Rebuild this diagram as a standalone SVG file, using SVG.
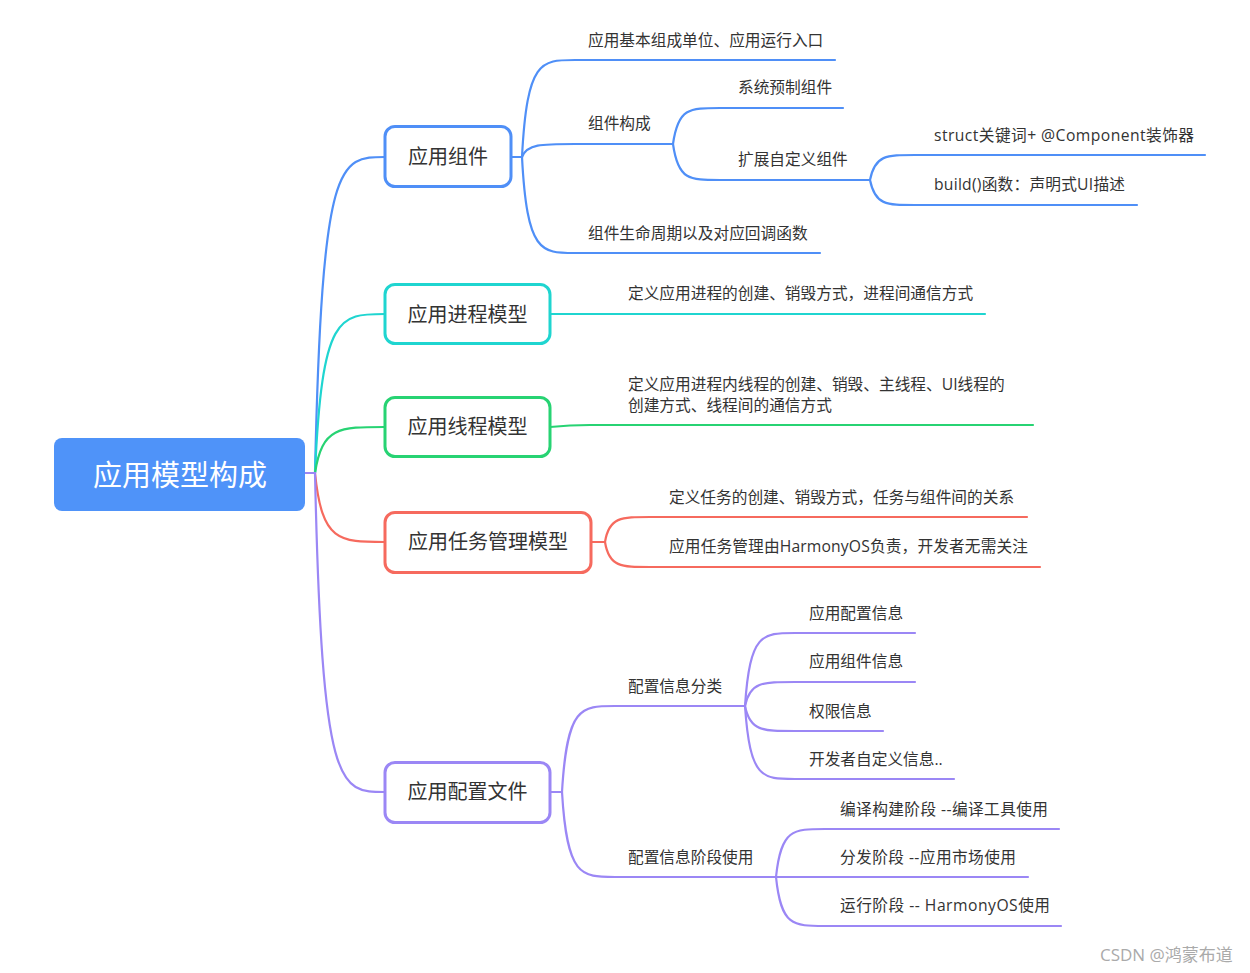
<svg xmlns="http://www.w3.org/2000/svg" width="1250" height="973" viewBox="0 0 1250 973">
<style>
text{font-family:"Open Sans","Noto Sans CJK SC",sans-serif;fill:#333}
.t2{font-size:15.7px}
.t1{font-size:20px;text-anchor:middle}
.root{font-size:29px;fill:#fff;text-anchor:middle}
.box{fill:#fff;stroke-width:3}
path{fill:none;stroke-width:2.2;stroke-linecap:round}
.b{stroke:#4f8ff7}.c{stroke:#1fd5d0}.g{stroke:#27d373}.r{stroke:#f66a5e}.p{stroke:#9b87f5}
.wm{font-size:17px;fill:#aaa}
</style>
<rect width="1250" height="973" fill="#fff"/>
<g id="connectors">
<path class="b" d="M315 473 C322 157 339 157 385 157"/>
<path class="c" d="M315 473 C322 314 339 314 385 314"/>
<path class="g" d="M315 473 C322 427 339 427 385 427"/>
<path class="r" d="M315 473 C322 542 339 542 385 542"/>
<path class="p" d="M315 473 C322 792 339 792 385 792"/>
<path class="p" d="M304 473 L315 473"/>
<path class="b" d="M511 157 L522 157"/>
<path class="b" d="M522 157 C527 60 541 60 575 60 L835 60"/>
<path class="b" d="M522 157 C527 144 541 144 575 144 L673 144"/>
<path class="b" d="M522 157 C527 253 541 253 575 253 L820 253"/>
<path class="b" d="M673 144 C678 108 689 108 720 108 L843 108"/>
<path class="b" d="M673 144 C678 180 689 180 720 180 L870 180"/>
<path class="b" d="M870 180 C875 155 886 155 915 155 L1205 155"/>
<path class="b" d="M870 180 C875 205 886 205 915 205 L1137 205"/>
<path class="c" d="M550 314 L985 314"/>
<path class="g" d="M550 427 C560 426 570 425 590 425 L1033 425"/>
<path class="r" d="M591 542 L605 542"/>
<path class="r" d="M605 542 C609 517 621 517 650 517 L1027 517"/>
<path class="r" d="M605 542 C609 567 621 567 650 567 L1040 567"/>
<path class="p" d="M550 792 L562 792"/>
<path class="p" d="M562 792 C567 706 581 706 615 706 L745 706"/>
<path class="p" d="M562 792 C567 877 581 877 615 877 L776 877"/>
<path class="p" d="M745 706 C750 633 762 633 795 633 L915 633"/>
<path class="p" d="M745 706 C750 682 762 682 795 682 L915 682"/>
<path class="p" d="M745 706 C750 731 762 731 795 731 L883 731"/>
<path class="p" d="M745 706 C750 779 762 779 795 779 L954 779"/>
<path class="p" d="M776 877 C781 829 793 829 825 829 L1059 829"/>
<path class="p" d="M776 877 L1028 877"/>
<path class="p" d="M776 877 C781 926 793 926 825 926 L1061 926"/>
</g>
<g id="root">
<rect x="54" y="438" width="251" height="73" rx="8" fill="#4f93f9"/>
<text class="root" x="180" y="486">应用模型构成</text>
</g>
<g id="n-component">
<rect class="box" x="385" y="126.5" width="126" height="60" rx="10" stroke="#4f8ff7"/>
<text class="t1" x="448" y="164">应用组件</text>
</g>
<g id="n-process">
<rect class="box" x="385" y="284.5" width="165" height="59" rx="10" stroke="#1fd5d0"/>
<text class="t1" x="467.5" y="322">应用进程模型</text>
</g>
<g id="n-thread">
<rect class="box" x="385" y="397.5" width="165" height="59" rx="10" stroke="#27d373"/>
<text class="t1" x="467.5" y="434">应用线程模型</text>
</g>
<g id="n-task">
<rect class="box" x="385" y="512.5" width="206" height="60" rx="10" stroke="#f66a5e"/>
<text class="t1" x="488" y="549">应用任务管理模型</text>
</g>
<g id="n-config">
<rect class="box" x="385" y="762.5" width="165" height="60" rx="10" stroke="#9b87f5"/>
<text class="t1" x="467.5" y="799">应用配置文件</text>
</g>
<g id="l-comp-1"><text class="t2" x="588" y="45.5">应用基本组成单位、应用运行入口</text></g>
<g id="l-comp-2"><text class="t2" x="588" y="128.5">组件构成</text></g>
<g id="l-comp-2a"><text class="t2" x="738" y="92.5">系统预制组件</text></g>
<g id="l-comp-2b"><text class="t2" x="738" y="164.5">扩展自定义组件</text></g>
<g id="l-comp-2b1"><text class="t2" x="934" y="140.5" textLength="260" lengthAdjust="spacing">struct关键词+ @Component装饰器</text></g>
<g id="l-comp-2b2"><text class="t2" x="934" y="189.5" textLength="191" lengthAdjust="spacing">build()函数：声明式UI描述</text></g>
<g id="l-comp-3"><text class="t2" x="588" y="238.5">组件生命周期以及对应回调函数</text></g>
<g id="l-process"><text class="t2" x="628" y="298.5">定义应用进程的创建、销毁方式，进程间通信方式</text></g>
<g id="l-thread"><text class="t2" x="628" y="389.5">定义应用进程内线程的创建、销毁、主线程、UI线程的</text><text class="t2" x="628" y="410.5">创建方式、线程间的通信方式</text></g>
<g id="l-task-1"><text class="t2" x="669" y="502.5">定义任务的创建、销毁方式，任务与组件间的关系</text></g>
<g id="l-task-2"><text class="t2" x="669" y="551.5" textLength="359" lengthAdjust="spacing">应用任务管理由HarmonyOS负责，开发者无需关注</text></g>
<g id="l-cfg-1"><text class="t2" x="628" y="691.5">配置信息分类</text></g>
<g id="l-cfg-1a"><text class="t2" x="809" y="618.5">应用配置信息</text></g>
<g id="l-cfg-1b"><text class="t2" x="809" y="666.5">应用组件信息</text></g>
<g id="l-cfg-1c"><text class="t2" x="809" y="716.5">权限信息</text></g>
<g id="l-cfg-1d"><text class="t2" x="809" y="764.5">开发者自定义信息..</text></g>
<g id="l-cfg-2"><text class="t2" x="628" y="862.5">配置信息阶段使用</text></g>
<g id="l-cfg-2a"><text class="t2" x="840" y="814.5" textLength="208" lengthAdjust="spacing">编译构建阶段 --编译工具使用</text></g>
<g id="l-cfg-2b"><text class="t2" x="840" y="862.5" textLength="176" lengthAdjust="spacing">分发阶段 --应用市场使用</text></g>
<g id="l-cfg-2c"><text class="t2" x="840" y="910.5" textLength="210" lengthAdjust="spacing">运行阶段 -- HarmonyOS使用</text></g>
<text class="wm" x="1100" y="961">CSDN @鸿蒙布道</text>
</svg>
